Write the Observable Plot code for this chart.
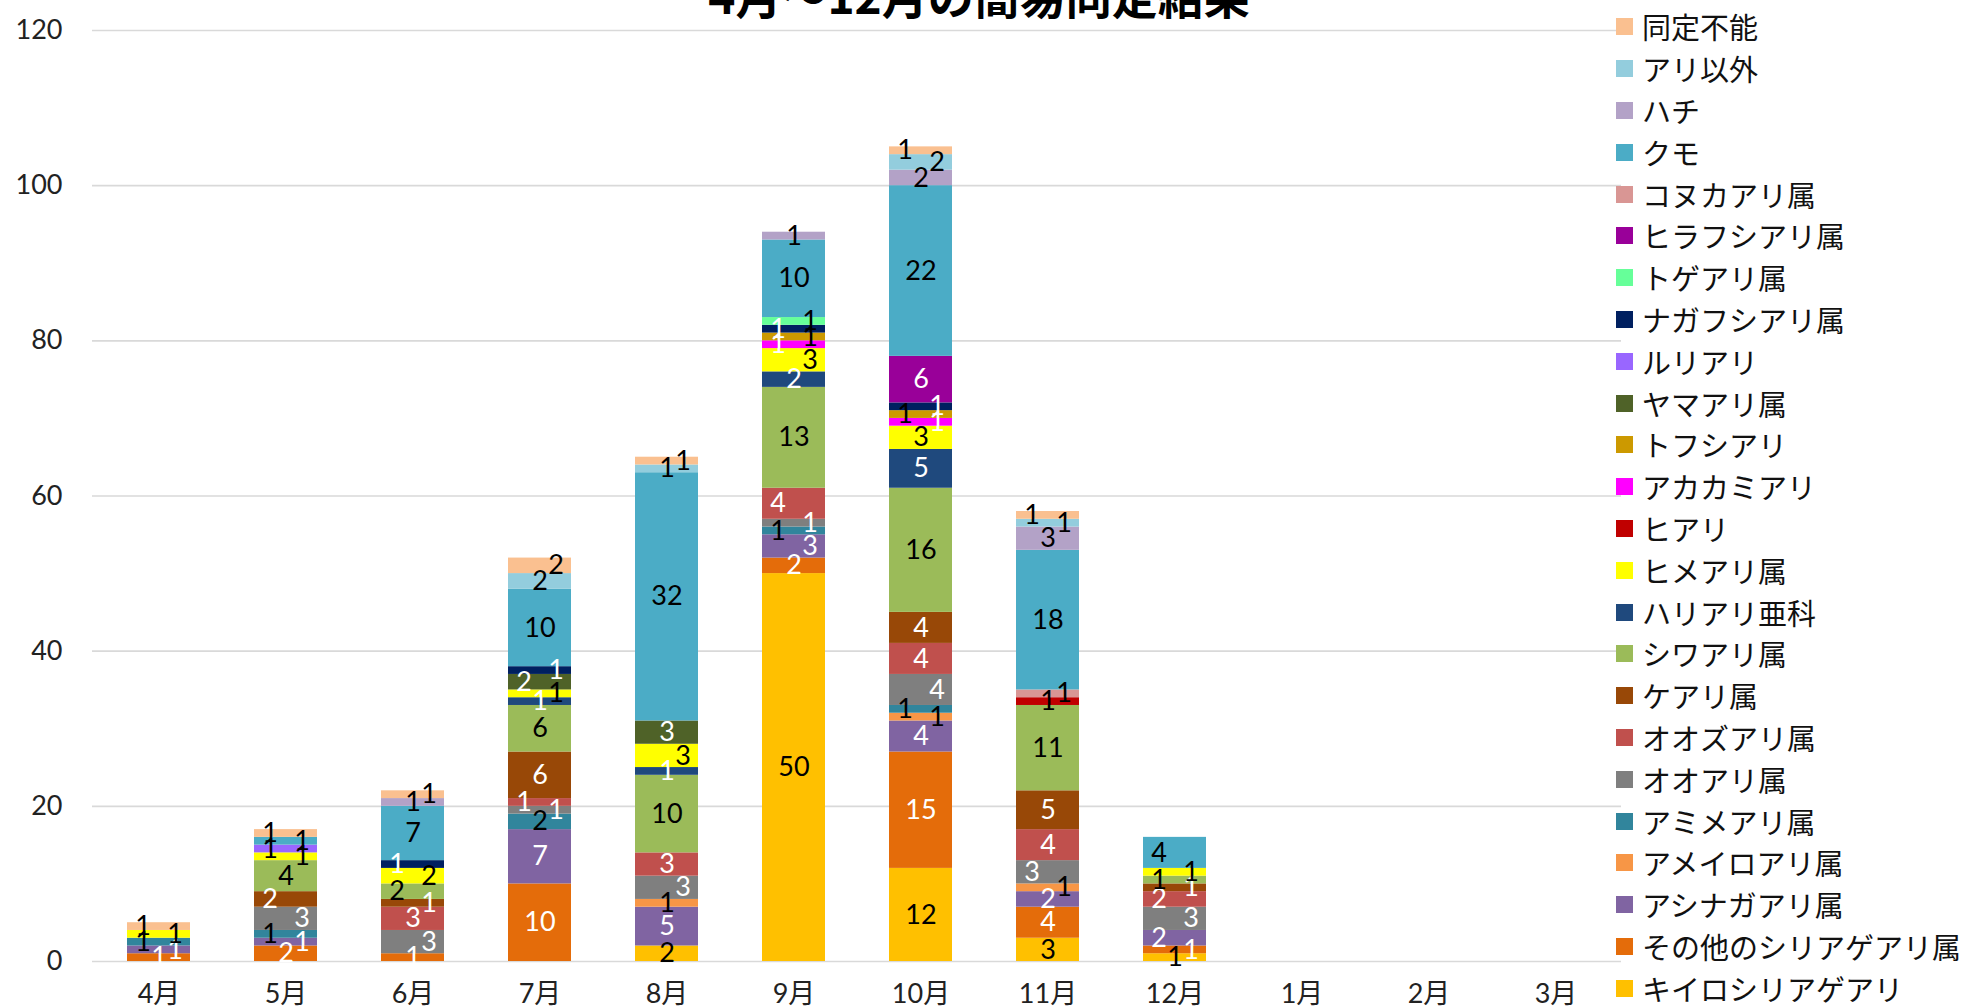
<!DOCTYPE html>
<html lang="ja">
<head>
<meta charset="utf-8">
<title>4月～12月の簡易同定結果</title>
<script src="https://cdn.jsdelivr.net/npm/d3@7"></script>
<script src="https://cdn.jsdelivr.net/npm/@observablehq/plot@0.6"></script>
<style>
  html, body { margin: 0; padding: 0; background: #fff; overflow: hidden; }
  #wrap { position: relative; width: 1964px; height: 1008px; overflow: hidden; }
  #title {
    position: absolute; left: 0; top: -29px; width: 1958px;
    text-align: center; font: 700 46px/46px "Noto Sans CJK JP", sans-serif; color: #000;
  }
  #legend { position: absolute; left: 1616px; top: 6px; }
  .item { display: flex; align-items: center; height: 41.8px; white-space: nowrap;
          font: 29px/1 "Noto Sans CJK JP", sans-serif; color: #111; }
  .sw { width: 17px; height: 17px; margin-right: 9px; flex: none; }
</style>
</head>
<body>
<div id="wrap">
  <div id="chart"></div>
  <div id="title">4月～12月の簡易同定結果</div>
  <div id="legend"></div>
</div>
<script>
// Months on the x axis (April through March)
const months = ["4月", "5月", "6月", "7月", "8月", "9月", "10月", "11月", "12月", "1月", "2月", "3月"];

// Categories, stacked from the bottom of each bar to the top
const categories = [
  "キイロシリアゲアリ", "その他のシリアゲアリ属", "アシナガアリ属", "アメイロアリ属",
  "アミメアリ属", "オオアリ属", "オオズアリ属", "ケアリ属", "シワアリ属", "ハリアリ亜科",
  "ヒメアリ属", "ヒアリ", "アカカミアリ", "トフシアリ", "ヤマアリ属", "ルリアリ",
  "ナガフシアリ属", "トゲアリ属", "ヒラフシアリ属", "コヌカアリ属", "クモ", "ハチ",
  "アリ以外", "同定不能"
];

// Fill colour of each category
const colors = [
  "#FFC000", "#E46C0A", "#8064A2", "#F79646", "#31859C", "#7F7F7F", "#C0504D", "#984807",
  "#9BBB59", "#1F497D", "#FFFF00", "#C00000", "#FF00FF", "#CC9900", "#4F6228", "#9966FF",
  "#002060", "#66FF99", "#990099", "#D99694", "#4BACC6", "#B3A2C7", "#93CDDD", "#FAC090"
];

// Colour of the count labels drawn on each category's segments
const labelColors = [
  "#000", "#fff", "#fff", "#000", "#000", "#fff", "#fff", "#fff",
  "#000", "#fff", "#000", "#000", "#fff", "#000", "#fff", "#000",
  "#fff", "#000", "#fff", "#000", "#000", "#000", "#000", "#000"
];

// Counts per month, one value per category (same order as `categories`)
const apr = [0, 1, 1, 0, 1, 0, 0, 0, 0, 0, 1, 0, 0, 0, 0, 0, 0, 0, 0, 0, 0, 0, 0, 1];
const may = [0, 2, 1, 0, 1, 3, 0, 2, 4, 0, 1, 0, 0, 0, 0, 1, 0, 0, 0, 0, 1, 0, 0, 1];
const jun = [0, 1, 0, 0, 0, 3, 3, 1, 2, 0, 2, 0, 0, 0, 0, 0, 1, 0, 0, 0, 7, 1, 0, 1];
const jul = [0, 10, 7, 0, 2, 1, 1, 6, 6, 1, 1, 0, 0, 0, 2, 0, 1, 0, 0, 0, 10, 0, 2, 2];
const aug = [2, 0, 5, 1, 0, 3, 3, 0, 10, 1, 3, 0, 0, 0, 3, 0, 0, 0, 0, 0, 32, 0, 1, 1];
const sep = [50, 2, 3, 0, 1, 1, 4, 0, 13, 2, 3, 0, 1, 1, 0, 0, 1, 1, 0, 0, 10, 1, 0, 0];
const oct = [12, 15, 4, 1, 1, 4, 4, 4, 16, 5, 3, 0, 1, 1, 0, 0, 1, 0, 6, 0, 22, 2, 2, 1];
const nov = [3, 4, 2, 1, 0, 3, 4, 5, 11, 0, 0, 1, 0, 0, 0, 0, 0, 0, 0, 1, 18, 3, 1, 1];
const dec = [1, 1, 2, 0, 0, 3, 2, 1, 1, 0, 1, 0, 0, 0, 0, 0, 0, 0, 0, 0, 4, 0, 0, 0];
const jan = [];
const feb = [];
const mar = [];

// Y axis ticks
const yTicks = [0, 20, 40, 60, 80, 100, 120];

const monthly = [apr, may, jun, jul, aug, sep, oct, nov, dec, jan, feb, mar];

// Long table: one row per non-zero (month, category) pair
const rows = [];
monthly.forEach((vals, m) => {
  vals.forEach((v, c) => {
    if (v > 0) rows.push({month: months[m], cat: categories[c], ci: c, count: v});
  });
});

// Labels of thin neighbouring segments would sit on top of each other;
// nudge them alternately right and left of the bar centre instead.
// side: 0 = centred, 1 = right, -1 = left
rows.forEach(r => { r.side = 0; });
months.forEach(m => {
  const inMonth = rows.filter(r => r.month === m).sort((a, b) => a.ci - b.ci);
  let base = 0, prevMid = -Infinity, prevSide = 0;
  for (const r of inMonth) {
    const mid = base + r.count / 2;
    if (mid - prevMid < 2.6) r.side = prevSide === 1 ? -1 : 1;
    prevMid = mid;
    prevSide = r.side;
    base += r.count;
  }
});

const numFont = "Lato, 'Noto Sans CJK JP', sans-serif";

// One text layer per nudge direction; every layer stacks all rows so
// positions match the bars, but only shows the labels of its own side.
const labelLayer = (side, dx) => Plot.text(rows, Plot.stackY({
  x: "month", y: "count", z: "cat", order: categories,
  text: d => d.side === side ? String(d.count) : null,
  fill: d => labelColors[d.ci],
  dx,
  fontSize: 27,
  fontFamily: numFont
}));

const chart = Plot.plot({
  width: 1964,
  height: 1008,
  marginLeft: 92,
  marginRight: 343,
  marginTop: 30,
  marginBottom: 47,
  style: {fontFamily: numFont, fontSize: "27px", color: "#222", background: "transparent"},
  x: {domain: months, paddingInner: 0.505, paddingOuter: 0.2525, label: null},
  y: {domain: [0, 120], label: null},
  color: {type: "identity"},
  marks: [
    Plot.gridY(yTicks, {stroke: "#D9D9D9", strokeOpacity: 1, strokeWidth: 1.6}),
    Plot.axisY({ticks: yTicks, tickSize: 0, tickPadding: 30, fontSize: 27, label: null}),
    Plot.axisX({tickSize: 0, tickPadding: 22, fontSize: 27, label: null}),
    Plot.barY(rows, {
      x: "month", y: "count", z: "cat", order: categories,
      fill: d => colors[d.ci]
    }),
    labelLayer(0, 0),
    labelLayer(1, 16),
    labelLayer(-1, -16)
  ]
});
document.getElementById("chart").appendChild(chart);

// Legend: top entry is the top of the stack
const legend = d3.select("#legend");
categories.slice().reverse().forEach(name => {
  const c = categories.indexOf(name);
  const item = legend.append("div").attr("class", "item");
  item.append("div").attr("class", "sw").style("background", colors[c]);
  item.append("span").text(name);
});
</script>
</body>
</html>
